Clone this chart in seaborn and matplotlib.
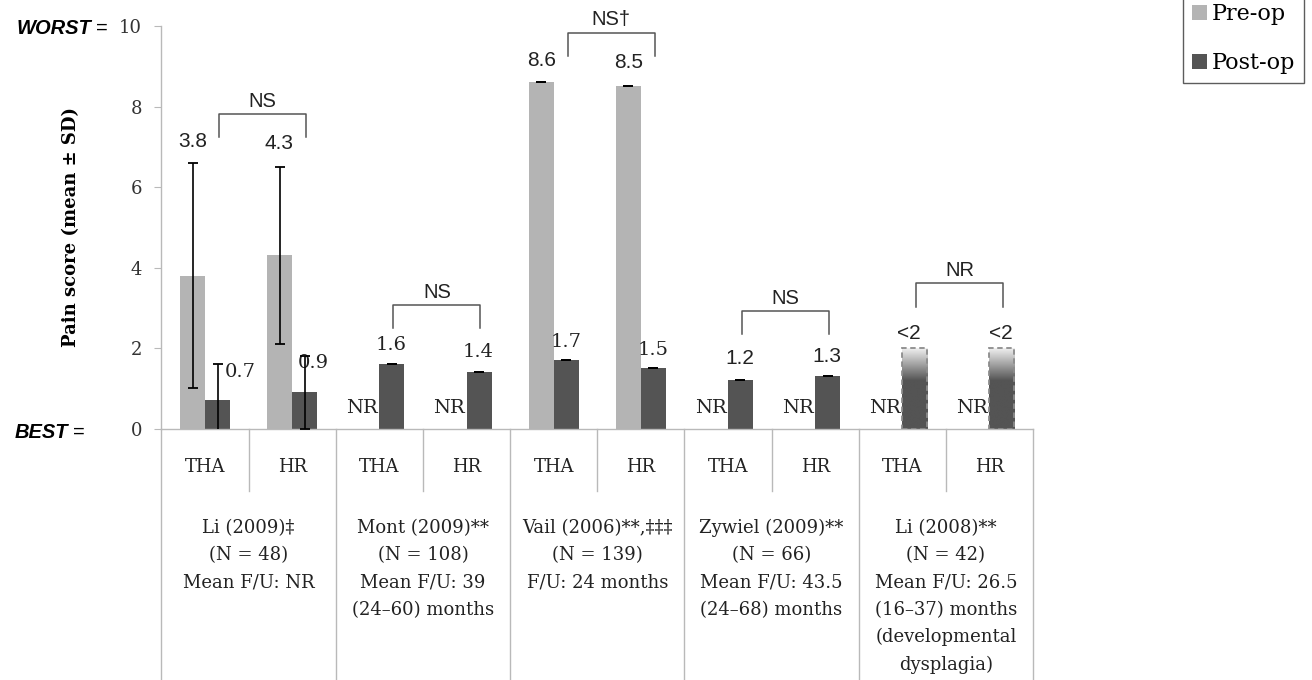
import numpy as np
import pandas as pd
import matplotlib
matplotlib.use("Agg")
import matplotlib.pyplot as plt
import matplotlib.transforms as mtransforms
from matplotlib.patches import Patch
import seaborn as sns

# ---------------------------------------------------------------- data
studies = ["Li (2009)‡", "Mont (2009)**", "Vail (2006)**,‡‡‡", "Zywiel (2009)**", "Li (2008)**"]
study_details = [
    "(N = 48)\nMean F/U: NR",
    "(N = 108)\nMean F/U: 39\n(24–60) months",
    "(N = 139)\nF/U: 24 months",
    "(N = 66)\nMean F/U: 43.5\n(24–68) months",
    "(N = 42)\nMean F/U: 26.5\n(16–37) months\n(developmental\ndysplagia)",
]
procedures = ["THA", "HR"]
comparisons = ["NS", "NS", "NS†", "NS", "NR"]

# one entry per bar slot: THA, HR for each study in turn (None = not reported)
pre_op_mean = [3.8, 4.3, None, None, 8.6, 8.5, None, None, None, None]
pre_op_sd = [2.8, 2.2, None, None, 0.0, 0.0, None, None, None, None]
post_op_mean = [0.7, 0.9, 1.6, 1.4, 1.7, 1.5, 1.2, 1.3, 2.0, 2.0]
post_op_sd = [0.9, 0.9, 0.0, 0.0, 0.0, 0.0, 0.0, 0.0, None, None]
post_op_upper_bound = [False, False, False, False, False, False, False, False, True, True]

# ---------------------------------------------------------------- layout
SERIF = ["DejaVu Serif"]
SANS = ["Liberation Sans", "DejaVu Sans"]
PRE_COLOR = "#b4b4b4"
POST_COLOR = "#545454"
GRID_COLOR = "#b9b9b9"
TABLE_SIZE = 13

# value-label anchor (offset from slot centre, height) and typeface per bar
pre_label_xy = [(-0.14, 7.14), (-0.15, 7.07), (-0.20, 0.50), (-0.20, 0.50), (-0.14, 9.14),
                (-0.14, 9.09), (-0.20, 0.50), (-0.20, 0.50), (-0.20, 0.50), (-0.20, 0.50)]
pre_label_font = ["sans", "sans", "serif", "serif", "sans", "sans", "serif", "serif", "serif", "serif"]
post_label_xy = [(0.40, 1.40), (0.24, 1.63), (0.14, 2.07), (0.13, 1.90), (0.14, 2.15),
                 (0.14, 1.95), (0.14, 1.73), (0.14, 1.80), (0.08, 2.37), (0.13, 2.37)]
post_label_font = ["serif", "serif", "serif", "serif", "serif", "serif", "sans", "sans", "sans", "sans"]
bracket_top = [7.81, 3.07, 9.83, 2.92, 3.61]
bracket_leg = 0.58

n_slots = len(studies) * len(procedures)
slots = [str(i) for i in range(n_slots)]

rows = []
for i in range(n_slots):
    pre = pre_op_mean[i]
    rows.append({"slot": slots[i], "phase": "Pre-op", "score": 0.0 if pre is None else pre})
    rows.append({"slot": slots[i], "phase": "Post-op", "score": post_op_mean[i]})
df = pd.DataFrame(rows)

fig = plt.figure(figsize=(13.12, 6.8), dpi=100)
ax = fig.add_axes([0.12309, 0.36985, 0.66425, 0.59191])

sns.barplot(data=df, x="slot", y="score", hue="phase", order=slots,
            hue_order=["Pre-op", "Post-op"],
            palette={"Pre-op": PRE_COLOR, "Post-op": POST_COLOR},
            width=0.574, errorbar=None, saturation=1, legend=False,
            linewidth=0, ax=ax)

ax.set_xlim(-0.5, n_slots - 0.5)
ax.set_ylim(0, 10)
ax.set_yticks([0, 2, 4, 6, 8, 10])
ax.set_yticklabels(["0", "2", "4", "6", "8", "10"], family=SERIF, fontsize=13, color="#333333")
ax.tick_params(axis="y", direction="out", length=5, color=GRID_COLOR, pad=9)
ax.set_xticks([])
ax.set_xlabel("")
ax.set_ylabel("Pain score (mean ± SD)", family=SERIF, fontsize=13, fontweight="bold")
ax.yaxis.set_label_coords(-0.0935, 0.5)
for side in ("top", "right"):
    ax.spines[side].set_visible(False)
for side in ("left", "bottom"):
    ax.spines[side].set_color(GRID_COLOR)
    ax.spines[side].set_linewidth(1.0)

pre_bars = ax.containers[0]
post_bars = ax.containers[1]

# error bars (mean ± SD)
for bars, sds in ((pre_bars, pre_op_sd), (post_bars, post_op_sd)):
    for bar, sd in zip(bars, sds):
        if sd is None:
            continue
        xc = bar.get_x() + bar.get_width() / 2
        ax.errorbar(xc, bar.get_height(), yerr=sd, fmt="none", ecolor="black",
                    elinewidth=1.2, capsize=3.8, capthick=1.3, zorder=4)

# bars reported only as an upper bound: fading fill with a dashed outline
fade = np.ones((200, 1))
levels = np.linspace(0, 1, 200)
dark = 0x54 / 255
fade[:, 0] = np.where(levels < 0.6, dark, dark + (0.94 - dark) * (levels - 0.6) / 0.4)
for bar, upper in zip(post_bars, post_op_upper_bound):
    if not upper:
        continue
    x0, w, h = bar.get_x(), bar.get_width(), bar.get_height()
    ax.imshow(fade, cmap="gray", vmin=0, vmax=1, origin="lower", aspect="auto",
              extent=[x0, x0 + w, 0, h], zorder=2, interpolation="bilinear")
    bar.set_facecolor("none")
    bar.set_edgecolor("#8c8c8c")
    bar.set_linestyle((0, (3, 2)))
    bar.set_linewidth(1.3)
    bar.set_zorder(3)
ax.set_xlim(-0.5, n_slots - 0.5)
ax.set_ylim(0, 10)


def label_style(kind):
    if kind == "sans":
        return {"family": SANS, "fontsize": 15}
    return {"family": SERIF, "fontsize": 14}


# value labels
for i in range(n_slots):
    dx, y = pre_label_xy[i]
    text = "NR" if pre_op_mean[i] is None else f"{pre_op_mean[i]:.1f}"
    ax.text(i + dx, y, text, ha="center", va="center", color="#222222",
            **label_style(pre_label_font[i]))
    dx, y = post_label_xy[i]
    v = post_op_mean[i]
    text = f"<{v:g}" if post_op_upper_bound[i] else f"{v:.1f}"
    ax.text(i + dx, y, text, ha="center", va="center", color="#222222",
            **label_style(post_label_font[i]))

# comparison brackets between THA and HR
for g, label in enumerate(comparisons):
    x0, x1 = 2 * g + 0.16, 2 * g + 1.16
    yt = bracket_top[g]
    ax.plot([x0, x0, x1, x1], [yt - bracket_leg, yt, yt, yt - bracket_leg],
            color="#555555", lw=1.1, clip_on=False, solid_joinstyle="round", zorder=5)
    ax.text((x0 + x1) / 2, yt + 0.32, label, ha="center", va="center",
            fontsize=14.5, family=SANS, color="#222222")

# table beneath the axis
for k in range(len(studies) + 1):
    ax.plot([2 * k - 0.5] * 2, [0, -6.4], color=GRID_COLOR, lw=1.0, clip_on=False)
for g in range(len(studies)):
    ax.plot([2 * g + 0.5] * 2, [0, -1.55], color=GRID_COLOR, lw=1.0, clip_on=False)
    for j, proc in enumerate(procedures):
        ax.text(2 * g + j, -0.96, proc, ha="center", va="center", fontsize=TABLE_SIZE,
                family=SERIF, color="#222222")
    ax.text(2 * g + 0.5, -2.25, studies[g] + "\n" + study_details[g], ha="center",
            va="top", fontsize=TABLE_SIZE, family=SERIF, color="#222222", linespacing=1.66)

# scale anchors
blend = mtransforms.blended_transform_factory(ax.transAxes, ax.transData)
ax.text(-0.0809, 9.95, "WORST", transform=blend, ha="right", va="center",
        fontsize=14.5, family=SANS, fontweight="bold", fontstyle="italic")
ax.text(-0.0683, 9.95, "=", transform=blend, ha="center", va="center",
        fontsize=14.5, family=SANS)
ax.text(-0.1073, -0.09, "BEST", transform=blend, ha="right", va="center",
        fontsize=14.5, family=SANS, fontweight="bold", fontstyle="italic")
ax.text(-0.0947, -0.09, "=", transform=blend, ha="center", va="center",
        fontsize=14.5, family=SANS)

# legend
handles = [Patch(facecolor=PRE_COLOR, edgecolor="none", label="Pre-op"),
           Patch(facecolor=POST_COLOR, edgecolor="none", label="Post-op")]
leg = fig.legend(handles=handles, loc="lower left",
                 bbox_to_anchor=(1183 / 1312, 1 - 83 / 680),
                 bbox_transform=fig.transFigure, frameon=True, fancybox=False,
                 prop={"family": SERIF, "size": 16}, handlelength=0.7,
                 handleheight=0.7, handletextpad=0.2, labelspacing=1.2,
                 borderpad=0.4, borderaxespad=0)
leg.get_frame().set_edgecolor("#333333")
leg.get_frame().set_linewidth(1.0)

fig.savefig("out.png", dpi=100)
